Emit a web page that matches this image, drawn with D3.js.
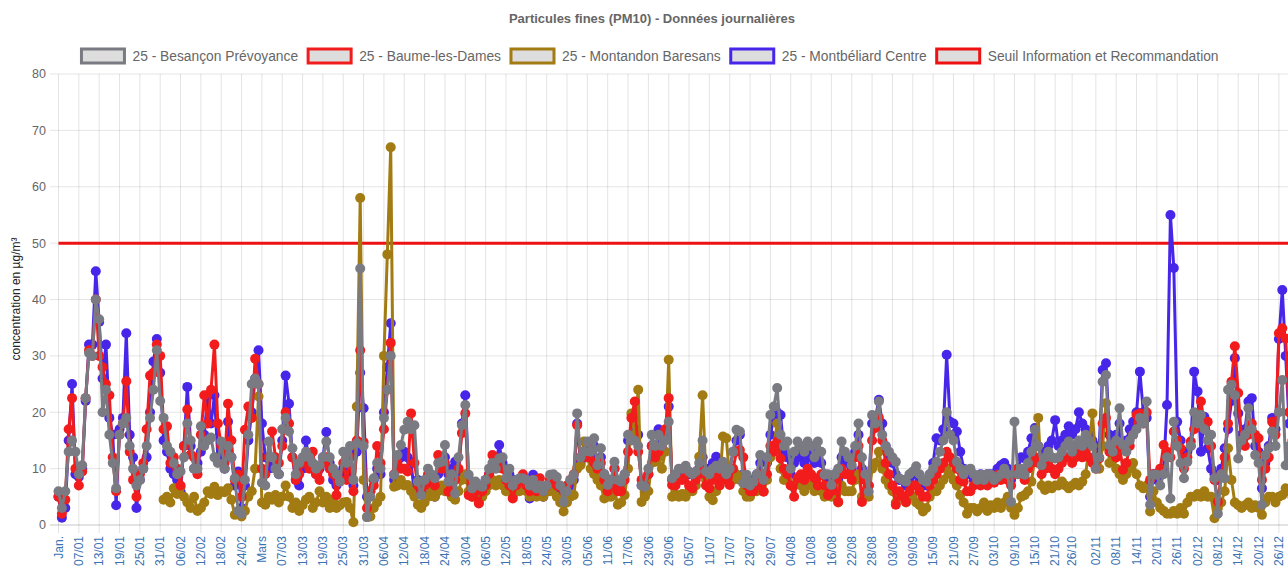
<!DOCTYPE html>
<html>
<head>
<meta charset="utf-8">
<script src="https://cdn.jsdelivr.net/npm/d3@7"></script>
<style>
body{margin:0;background:#fff;}
svg{display:block;font-family:"Liberation Sans",Arial,Helvetica,sans-serif;}
</style>
</head>
<body>
<div id="chart"></div>
<script>
// données journalières PM10, une valeur par jour depuis le 01/01
var startDay = "2020-01-01";

var tickDays = ["01/01","07/01","13/01","19/01","25/01","31/01","06/02","12/02","18/02","24/02",
  "01/03","07/03","13/03","19/03","25/03","31/03","06/04","12/04","18/04","24/04","30/04",
  "06/05","12/05","18/05","24/05","30/05","05/06","11/06","17/06","23/06","29/06",
  "05/07","11/07","17/07","23/07","29/07","04/08","10/08","16/08","22/08","28/08",
  "03/09","09/09","15/09","21/09","27/09","03/10","09/10","15/10","21/10","26/10",
  "02/11","08/11","14/11","20/11","26/11","02/12","08/12","14/12","20/12","26/12"];
var monthNames = {"01/01":"Jan.","01/03":"Mars"};
var yTicks = [0,10,20,30,40,50,60,70,80];

var besancon = [
6,3,6,13,15,13,9,10.6,22.5,30.5,
30,40,36.5,20,24,16,11,6.5,16,18,
19,14,10,7,8,10,14,19,24,31,
22,19,14,13,11,9,9.5,12,18,15,
10,10,17.5,14,15,15.5,12,11,14.8,10,
14,12,8.3,2.5,2,8,16,25,26,25,
7.5,7,14.8,12,10,9,17,19,16.6,13.6,
9,11,12,13,12,11,10,10.6,12,14.8,
12,10,9,7.7,13,11,14,8,14.5,45.5,
14,1.4,5,8.3,11,10,19,24,30,8.9,
12.4,14.2,16.9,18.3,17,17.7,7.7,5.3,8,10,
9,8.3,11,11.2,14.2,7.7,9,5.6,12,17.7,
21.3,8.9,6.5,7.7,7,6.8,8,10,11,10,
11.8,12,8.3,10,7,8,8.3,8.3,8,7,
8,6.5,7,6,7,8.9,9,8.5,7,4.1,
6,8,8.9,19.8,12,13,14.8,13,15.4,10.6,
13.6,9,7.1,8,11.2,8,7.7,9,16,15,
15,14,7,6.8,10,16,14,16,14,15,
18.3,8.3,9,10,10,10.5,9.5,9,9.5,11,
15,9.5,9,10,10.5,10,11.2,9,10,13,
16.9,16.6,7.4,8.9,7,7.7,9,12.4,8,12,
19.5,21,24.3,16,14,14.8,10,13,14.8,14,
13,14.8,14,12,14.8,13,8.9,9,7.1,9,
10,14.8,13,12,10.6,14,18,12,9,5.9,
19.5,18,21.9,16,14,13,12,11.2,8.3,8,
7.7,9,9.5,10.4,9,8,7.7,9,10,11.2,
13,15,20,16,15,11.2,10,9,9.8,10,
9,8,8.9,8,9,8.9,8,8.5,9,10,
9,4.1,18.3,9,10,8.9,11,13,16.9,14,
10.6,12,13,12,11.8,12,13,14,14.8,13,
14.2,15,14,16,15,14,10,12,25.4,26.6,
14.2,13,15,20.7,14.2,13,15,16,17,19,
18,21.9,3.6,8.9,8.9,7,9,12,4.7,18.3,
14,11,8.3,11.2,14,20,18,19.5,17,15,
16,8.3,2,9,8.3,24,24.9,23,11.8,15,
16,20.7,17,12.4,11,3.6,12.4,13.6,16.6,14,
20,25.7,10.6,14,12,10];

var baume = [
5,2,4.5,17,22.5,10,7,9.5,22.5,31,
30,40,30,28,25,23,12,6,16,18,
25.5,13,8,5,9,11,17,26.5,27,32,
30,17,17.5,11,12,10,7,14,20.5,12.5,
12,9,16,23,18,24,32,18,14,11,
21.5,15,8,8.9,5,16.9,21,19,29.5,25,
10,9,12,16.6,12,11,14,20,18,12,
8,9,11,12,10,13,9,8,11,12,
10,9,5.3,8,11,8,12,6,15,31,
14.7,3,6,7,14,11,17,24,32.3,9,
11,10,10,9.5,19.8,11,7,6,7,9,
8,7,12.4,10,11,5.9,7,8,10,16.3,
19.8,5.3,5,6,3.8,6,7,9,12.4,11,
11.8,10,8,7,4.7,7,8,9,7,6,
8,6,8.3,6,7,8,8,7,6.8,6,
7,8,9,17.7,12,13,12,14,11,10,
11,8,6,7,10,6,6,8,13,19,
21.9,13,8,7,9,14,12,13,14,17,
22.5,7.1,7,8,8,9,7,6.5,8,9,
10,7,6.5,8,9,7,8,8.3,7.1,10,
13,13.3,12,7,6,6,7,9,5.9,9,
14,13,14.8,11.8,10,9,7,5,8.3,9,
8,10,9,8.3,7,9,7,5.3,6,8,
4.1,10,9,9,8,12,14,4.1,8,7,
15,17.2,19,15,11,9,7,3.6,6,5,
4.1,6,7,7,6,5,5,7,8,9,
10,11,13,12,11,10,8,7.7,6,6,
7,8,7,8,7,8,7.5,8.9,8,9,
8,7,9,10,9,8,10,11,12,11,
9,10,11.2,10,9,10,11,12,12,11,
12,13,12,13,12,11,10,11.8,18,19,
13,13,12,14,9.8,11,14,16,19.5,19.8,
18,20,8,9,9,10,14.2,13,12,16.6,
15,13.6,10,12,14.8,17,19,21.9,18,18.3,
14,8,4.1,9,12,18,25.4,31.7,23.4,15,
14,16,18,16,15.4,8,10,12,18.3,16,
34,34.9,33.1,20,15,12];

var montandon = [
null,null,null,null,null,null,null,null,null,null,
null,null,null,null,null,null,null,null,null,null,
null,null,null,null,null,null,null,null,null,null,
null,4.5,5,4,6.5,5.5,6.8,5,4,3,
5,2.5,3,4,6,5.5,6.8,5.3,6,5.8,
6.5,4.5,1.8,2,1.5,2.5,5,6,10,22.8,
4,3.6,5,4.5,5.3,4,5,7,5,3,
4,2.5,3.5,4.5,5,3,4,6,4,5,
3,4.5,3,3.5,4,4.1,3,0.5,21,58,
8,1.4,1.5,3,4,5,30,48,67,6.8,
7,8,7,7.1,6,5,3.6,3,4,5,
6,5,6,7,6,6,5,4.5,6,8,
9,6,5,5,4,5,6,7,8,7,
8,7,6,7,5,6,6,7,6,5,
6,5,6,5,6,6,7,5,4,2.4,
4,5,5.3,10,10.6,14.8,12,10,9,8,
7,4.7,5,5,6,3.6,4,5.3,10,19.8,
16,24,4.1,5,6,11,11.2,12,10,13,
29.3,5,5.5,5,5.5,5,6,6,7,12.1,
23,8,5,4.4,6,7,15.7,15.4,8,8,
9,8,6,5,5,6,6,7,6,8,
12,14,18,10,8,8,7,7,8,7,
6,8,7,6,7,6,5,6,5,6,
4,7,6,6,6,8,9,5,5,5,
10,11,13,10,8,7,6,4,5,5,
4,5,5,4,3.5,2.4,3,5,6,6,
7,8,10,9,8,7,5.3,4,2,3,
3,2.4,3,4,2.5,3.5,3,4,3,4,
5,3,1.8,3,5,5.3,6,7.7,12,19,
7,6.2,7,6.5,7,7,7.7,7,6.5,7,
7.5,7,7.7,9,14,19.8,11,10,14,21.6,
11,11.5,10,9,8,9,10,11,9,7,
6.5,7,2.4,6,4,3,2.5,2,2,2.5,
2,3,2,4,5,5,5.5,5,6,5,
5,1.2,3,4,6,13.6,8,4,3.5,3,
3.5,4,3,3.5,3,1.8,4,5,5,4,
5,5.3,6.5,6,5,5];

var montbeliard = [
5,1.3,3,15,25,9,8.5,10,22,32,
32,45,36,26,32,19,16,3.5,17,19,
34,16,12,3,8,10,12,20,29,33,
27,15,13,10,9,8,6,14,24.5,14,
10,11,13,16,23,18,23,12,13,10,
18.3,12,7,9.5,3,7,15,20,26,31,
18,12,10,11,10,9,15,26.5,21.5,12,
8,7,10,15,11,10,9,10,12,16.5,
11,8,7,9,10,9,10,7,13,27,
20.7,5,6,8,10,9,20,28,35.8,8,
10,12,13,12,11.2,5.3,8,6,7,8,
6,5,9,10,12,9,10,11.2,9,18,
23,8,6,7,6,7,8,9,10,11,
14.2,11,8,9,6,8,7,8,7,4.7,
8.9,6,7,5,6,8,8,7,6,4,
6,7,8,18,11,13,14,12,14,11,
12,9,8,8,10,7,7,9,15,16,
17,16,7,6,9,14,13,17,15,16,
21,8,8,9,9,10,9,9,9,10,
12,10,9,11,12.1,11,11,10,10,13,
15,16,9,8,7,8,9,11,8,11,
16,19,20,19.5,13,12,9,11,13,12,
11,12,13,11,12,11,9,8,7,9,
8,12,11,11,10,13,16,10,9,7,
18,19,22.2,18,14,12,11,9,8,8,
7,8,9,9,8,7,7,9,11,15.4,
15,17,30.2,18.3,18,16.6,13,10,9,9,
8,8,9,8,9,9,9,10,10.6,11,
10,8,9,10,12,11.8,13,15.4,17.2,14,
12,13,14,15,18.6,14,15,16,17.5,16,
17,20,18,17,16,15,12,14,27.5,28.7,
16,15,16,18,14,15,17,18.3,20,27.2,
20,19,5,9,8,9,10,21.3,55,45.6,
18.3,15,12,13,14,27.2,23.7,13,19.2,13.6,
10,9,8,10,13.6,17,22,29.6,19.8,16,
17,21.9,22.5,14,13,6.5,11,14,19,17,
33,41.7,30,18,14,12];

var seuil = 50;

var seriesNames = ["25 - Besançon Prévoyance","25 - Baume-les-Dames","25 - Montandon Baresans","25 - Montbéliard Centre","Seuil Information et Recommandation"];
var seriesColors = ["#7a7a82","#f21c1c","#a27b12","#4726ea","#ee1111"];

var W = 1288, H = 569;
var margin = {left: 58.5, top: 74, bottom: 525};
var dayPx = 3.39;

var parseDay = d3.utcParse("%Y-%m-%d");
var t0 = parseDay(startDay);
function dayDate(i){ return d3.utcDay.offset(t0, i); }
function tickDate(s){
  var p = s.split("/");
  return parseDay("2020-" + p[1] + "-" + p[0]);
}

var x = d3.scaleUtc()
  .domain([t0, dayDate(365)])
  .range([margin.left, margin.left + 365 * dayPx]);
var y = d3.scaleLinear()
  .domain([0, 80])
  .range([margin.bottom, margin.top]);

var svg = d3.select("#chart").append("svg")
  .attr("width", W).attr("height", H);

// titre
svg.append("text")
  .attr("x", 652).attr("y", 23)
  .attr("text-anchor", "middle")
  .attr("font-size", 13).attr("font-weight", "bold")
  .attr("fill", "#666")
  .text("Particules fines (PM10) - Données journalières");

// grille
var grid = svg.append("g");
grid.selectAll(".hg").data(yTicks).join("line")
  .attr("x1", 50).attr("x2", W)
  .attr("y1", d => y(d)).attr("y2", d => y(d))
  .attr("stroke", d => d === 0 ? "rgba(0,0,0,0.22)" : "rgba(0,0,0,0.1)")
  .attr("stroke-width", 1);
grid.selectAll(".vg").data(tickDays).join("line")
  .attr("x1", d => x(tickDate(d))).attr("x2", d => x(tickDate(d)))
  .attr("y1", margin.top).attr("y2", margin.bottom + 8)
  .attr("stroke", "rgba(0,0,0,0.11)")
  .attr("stroke-width", 1);

// axe y
svg.append("g").selectAll("text").data(yTicks).join("text")
  .attr("x", 46).attr("y", d => y(d))
  .attr("dy", "0.35em")
  .attr("text-anchor", "end")
  .attr("font-size", 12.5).attr("fill", "#666")
  .text(d => d);

svg.append("text")
  .attr("transform", "translate(16,299) rotate(-90)")
  .attr("text-anchor", "middle")
  .attr("dy", "0.35em")
  .attr("font-size", 12).attr("fill", "#222")
  .text("concentration en µg/m³");

// axe x
svg.append("g").selectAll("text").data(tickDays).join("text")
  .attr("transform", d => "translate(" + x(tickDate(d)) + "," + (margin.bottom + 11) + ") rotate(-90)")
  .attr("text-anchor", "end")
  .attr("dy", "0.35em")
  .attr("font-size", 12).attr("fill", "#3a72b2")
  .text(d => monthNames[d] || d);

// séries
var line = d3.line()
  .defined(d => d != null)
  .x((d, i) => x(dayDate(i)))
  .y(d => y(d));

var plot = svg.append("g");
// seuil
plot.append("line")
  .attr("x1", x(t0)).attr("x2", W)
  .attr("y1", y(seuil)).attr("y2", y(seuil))
  .attr("stroke", seriesColors[4]).attr("stroke-width", 3);

var datasets = [besancon, baume, montandon, montbeliard];
// ordre de dessin : le premier jeu par-dessus
[3, 2, 1, 0].forEach(function(k){
  var data = datasets[k];
  var g = plot.append("g");
  g.append("path")
    .datum(data)
    .attr("d", line)
    .attr("fill", "none")
    .attr("stroke", seriesColors[k])
    .attr("stroke-width", 3)
    .attr("stroke-linejoin", "round");
  g.selectAll("circle")
    .data(data.map((v, i) => ({v: v, i: i})).filter(d => d.v != null))
    .join("circle")
    .attr("cx", d => x(dayDate(d.i)))
    .attr("cy", d => y(d.v))
    .attr("r", 5)
    .attr("fill", seriesColors[k]);
});

// légende
var legend = svg.append("g");
var items = legend.selectAll("g").data(seriesNames).join("g");
items.append("text")
  .attr("font-size", 13.8).attr("fill", "#666")
  .attr("y", 61)
  .text(d => d);
var widths = [];
items.each(function(){ widths.push(d3.select(this).select("text").node().getComputedTextLength()); });
var total = d3.sum(widths, w => 51 + w) + 10 * (widths.length - 1);
var cx = 650 - total / 2;
items.each(function(d, i){
  var it = d3.select(this);
  it.insert("rect", "text")
    .attr("x", cx).attr("y", 49)
    .attr("width", 43).attr("height", 14)
    .attr("fill", "#ddd")
    .attr("stroke", seriesColors[i]).attr("stroke-width", 3);
  it.select("text").attr("x", cx + 51);
  cx += 51 + widths[i] + 10;
});
</script>
</body>
</html>
